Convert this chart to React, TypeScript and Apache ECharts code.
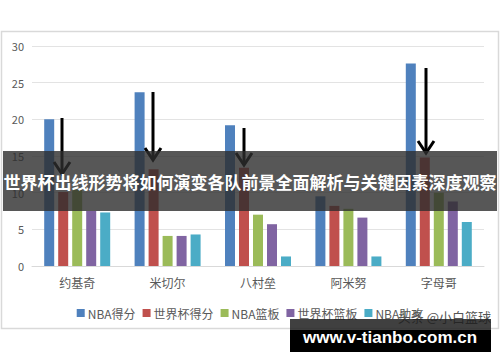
import React, { useEffect, useRef } from "react";
import * as echarts from "echarts";

const categories = ["约基奇", "米切尔", "八村垒", "阿米努", "字母哥"];
const seriesNames = ["NBA得分", "世界杯得分", "NBA篮板", "世界杯篮板", "NBA助攻"];
const nbaPoints = [20.0, 23.7, 19.2, 9.5, 27.6];
const wcPoints = [10.1, 13.2, 13.4, 8.2, 14.8];
const nbaRebounds = [10.4, 4.1, 7.0, 7.8, 10.0];
const wcRebounds = [7.5, 4.1, 5.7, 6.6, 8.8];
const nbaAssists = [7.3, 4.3, 1.3, 1.3, 6.0];
const yTicks = { min: 0, max: 30, interval: 5 };
const colors = ["#4F81BD", "#C0504D", "#9BBB59", "#8064A2", "#4BACC6"];
const bannerTitle = "世界杯出线形势将如何演变各队前景全面解析与关键因素深度观察";
const watermark = "头条 @小白篮球";
const siteText = "www.v-tianbo.com.cn";

const arrows = [
  { x: 62, y1: 118, y2: 174 },
  { x: 153, y1: 92, y2: 160 },
  { x: 244, y1: 128, y2: 165 },
  { x: 426, y1: 68, y2: 153 },
];

export default function App() {
  const ref = useRef<HTMLDivElement>(null);
  useEffect(() => {
    if (!ref.current) return;
    const chart = echarts.init(ref.current, null, { renderer: "svg" });
    const data = [nbaPoints, wcPoints, nbaRebounds, wcRebounds, nbaAssists];
    const arrowEls: any[] = [];
    arrows.forEach((a) => {
      arrowEls.push({
        type: "line",
        z: 50,
        shape: { x1: a.x, y1: a.y1, x2: a.x, y2: a.y2 - 2 },
        style: { stroke: "#000", lineWidth: 3 },
      });
      arrowEls.push({
        type: "polyline",
        z: 50,
        shape: { points: [[a.x - 8, a.y2 - 12], [a.x, a.y2], [a.x + 8, a.y2 - 12]] },
        style: { stroke: "#000", lineWidth: 3, fill: "none" },
      });
    });
    chart.setOption({
      animation: false,
      color: colors,
      textStyle: { fontFamily: "'Noto Sans CJK SC', 'Noto Sans', sans-serif" },
      grid: { left: 32, right: 16, top: 46, bottom: 96 },
      legend: {
        data: seriesNames,
        top: 302,
        left: "center",
        itemWidth: 8,
        itemHeight: 8,
        itemGap: 7,
        icon: "rect",
        textStyle: { color: "#595959", fontSize: 12, padding: [0, 0, 0, -2] },
      },
      xAxis: {
        type: "category",
        data: categories,
        axisLine: { lineStyle: { color: "#d9d9d9" } },
        axisTick: { show: false },
        axisLabel: { color: "#595959", fontSize: 12, margin: 10 },
      },
      yAxis: {
        type: "value",
        min: yTicks.min,
        max: yTicks.max,
        interval: yTicks.interval,
        axisLine: { show: false },
        axisTick: { show: false },
        axisLabel: { color: "#595959", fontSize: 11, margin: 8 },
        splitLine: { lineStyle: { color: "#e3e3e3" } },
      },
      series: seriesNames.map((name, i) => ({
        name,
        type: "bar",
        data: data[i],
        barWidth: 10,
        barGap: "40%",
        barCategoryGap: "27%",
      })),
      graphic: [
        {
          type: "rect",
          z: 1,
          silent: true,
          shape: { x: 1.5, y: 31.5, width: 497, height: 297 },
          style: { fill: "none", stroke: "#d9d9d9", lineWidth: 1.5 },
        },
        ...arrowEls,
        {
          type: "rect",
          z: 60,
          shape: { x: 3, y: 151, width: 494, height: 60 },
          style: { fill: "rgba(45,45,45,0.8)" },
        },
        {
          type: "text",
          z: 61,
          x: 250,
          y: 181,
          style: {
            text: bannerTitle,
            fill: "#fff",
            fontSize: 17,
            fontWeight: "bold",
            fontFamily: "'Noto Sans CJK SC', sans-serif",
            align: "center",
            verticalAlign: "middle",
          },
        },
        {
          type: "text",
          z: 62,
          x: 491,
          y: 316,
          style: {
            text: watermark,
            fill: "#555",
            fontSize: 13,
            fontFamily: "'Noto Sans CJK SC', sans-serif",
            align: "right",
            verticalAlign: "middle",
          },
        },
        {
          type: "rect",
          z: 63,
          shape: { x: 290, y: 319, width: 201, height: 11 },
          style: { fill: "rgba(30,30,30,0.85)" },
        },
        {
          type: "rect",
          z: 63,
          shape: { x: 290, y: 330, width: 201, height: 22 },
          style: { fill: "#000" },
        },
        {
          type: "text",
          z: 64,
          x: 390,
          y: 337,
          style: {
            text: siteText,
            fill: "#fff",
            fontSize: 17,
            fontWeight: "bold",
            fontFamily: "'Liberation Sans', Arial, sans-serif",
            align: "center",
            verticalAlign: "middle",
          },
        },
      ],
    });
    return () => chart.dispose();
  }, []);
  return (
    <div
      ref={ref}
      style={{ position: "fixed", left: 0, top: 0, width: 500, height: 362, background: "#fff" }}
    />
  );
}
